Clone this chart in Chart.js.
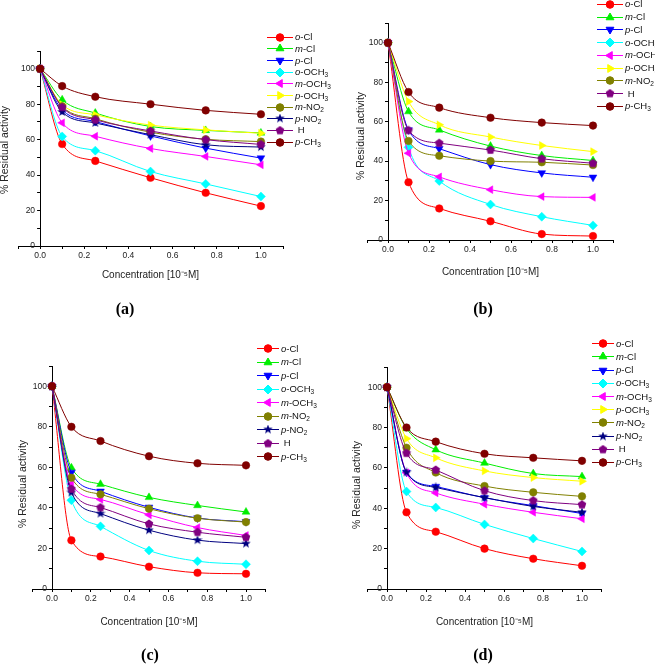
<!DOCTYPE html>
<html>
<head>
<meta charset="utf-8">
<script src="https://cdn.jsdelivr.net/npm/chart.js@4/dist/chart.umd.min.js"></script>
<style>
  body { margin: 0; background: #fff; width: 655px; height: 671px; position: relative; overflow: hidden;
         font-family: "Liberation Sans", Arial, sans-serif; }
  canvas.plot { position: absolute; }
  .legend { position: absolute; font-size: 9.5px; color: #111; }
  .legend .row { display: flex; align-items: center; white-space: nowrap; }
  .legend canvas { margin-right: 2px; }
  .legend sub { font-size: 6.5px; vertical-align: baseline; position: relative; top: 2px; }
  .tag { position: absolute; font: bold 16px "Liberation Serif", "Times New Roman", serif; transform: translate(-50%, -50%); }
</style>
</head>
<body>
<script>
// 濃度 (x軸)
const conc = [0, 0.1, 0.25, 0.5, 0.75, 1.0];

// (a)
const a_oCl   = [100, 57.5, 48.0, 38.5, 30.0, 22.5];
const a_mCl   = [100, 82.5, 75.0, 67.4, 65.2, 63.8];
const a_pCl   = [100, 76.8, 70.2, 62.1, 55.2, 49.6];
const a_oOCH3 = [100, 61.8, 53.8, 42.0, 35.0, 27.9];
const a_mOCH3 = [100, 69.5, 61.9, 55.0, 50.5, 45.8];
const a_pOCH3 = [100, 79.7, 74.0, 68.2, 65.5, 63.6];
const a_mNO2  = [100, 78.8, 71.8, 64.2, 60.2, 58.9];
const a_pNO2  = [100, 75.6, 69.4, 62.8, 57.1, 55.8];
const a_H     = [100, 78.3, 71.2, 64.9, 60.0, 57.3];
const a_pCH3  = [100, 90.2, 84.2, 80.0, 76.5, 74.3];

// (b)
const b_oCl   = [100, 29.3, 16.0, 9.5, 3.0, 2.0];
const b_mCl   = [100, 65.1, 55.8, 47.6, 42.8, 40.3];
const b_pCl   = [100, 55.8, 46.3, 38.2, 34.0, 31.8];
const b_oOCH3 = [100, 47.0, 29.9, 18.0, 11.8, 7.4];
const b_mOCH3 = [100, 44.0, 32.0, 25.5, 22.0, 21.6];
const b_pOCH3 = [100, 70.2, 58.4, 52.2, 47.9, 44.8];
const b_mNO2  = [100, 50.2, 42.7, 40.0, 39.4, 38.0];
const b_H     = [100, 55.6, 49.1, 45.6, 41.2, 38.9];
const b_pCH3  = [100, 75.0, 67.1, 62.0, 59.5, 58.0];

// (c)
const c_oCl   = [100, 24.0, 16.0, 11.0, 8.0, 7.5];
const c_mCl   = [100, 59.8, 51.7, 45.2, 41.2, 38.0];
const c_pCl   = [100, 57.5, 48.2, 40.3, 35.0, 33.2];
const c_oOCH3 = [100, 43.8, 30.9, 19.0, 13.7, 12.2];
const c_mOCH3 = [100, 51.8, 44.2, 36.6, 30.3, 26.4];
const c_mNO2  = [100, 54.9, 46.7, 39.6, 34.9, 33.0];
const c_pNO2  = [100, 47.6, 37.2, 29.0, 24.1, 22.4];
const c_H     = [100, 49.3, 40.2, 32.1, 28.0, 25.5];
const c_pCH3  = [100, 80.0, 73.0, 65.5, 62.0, 61.0];

// (d)
const d_oCl   = [100, 38.0, 28.4, 20.0, 15.0, 11.5];
const d_mCl   = [100, 79.5, 69.0, 62.4, 57.2, 55.7];
const d_pCl   = [100, 57.8, 50.8, 45.2, 41.3, 37.4];
const d_oOCH3 = [100, 48.3, 40.4, 32.0, 25.0, 18.6];
const d_mOCH3 = [100, 57.6, 47.6, 42.0, 38.0, 34.8];
const d_pOCH3 = [100, 74.5, 65.0, 58.5, 55.2, 53.4];
const d_mNO2  = [100, 70.0, 57.7, 51.0, 47.9, 45.9];
const d_pNO2  = [100, 57.8, 50.3, 45.3, 40.9, 38.0];
const d_H     = [100, 67.3, 59.0, 48.7, 43.8, 41.8];
const d_pCH3  = [100, 80.0, 73.0, 67.0, 65.0, 63.5];

const xTickStep = 0.1;
const yTickStep = 10;

// 自作マーカー (星・五角形)
function makeMarker(kind, color) {
  const c = document.createElement("canvas");
  c.width = c.height = 10;
  const g = c.getContext("2d");
  g.fillStyle = color;
  g.beginPath();
  const n = kind === "star5" ? 10 : 5;
  for (let i = 0; i < n; i++) {
    const r = kind === "star5" ? (i % 2 ? 2.1 : 5) : 4.5;
    const ang = -Math.PI / 2 + i * 2 * Math.PI / n;
    g.lineTo(5 + r * Math.cos(ang), 5 + r * Math.sin(ang));
  }
  g.closePath();
  g.fill();
  return c;
}

const styles = {
  "o-Cl":   { color: "#ff0000", shape: "circle",   rot: 0,   r: 3.8 },
  "m-Cl":   { color: "#00ee00", shape: "triangle", rot: 0,   r: 4.5 },
  "p-Cl":   { color: "#0000ff", shape: "triangle", rot: 180, r: 4.5 },
  "o-OCH3": { color: "#00ffff", shape: "rectRot",  rot: 0,   r: 4.5 },
  "m-OCH3": { color: "#ff00ff", shape: "triangle", rot: 270, r: 4.5 },
  "p-OCH3": { color: "#ffff00", shape: "triangle", rot: 90,  r: 4.5 },
  "m-NO2":  { color: "#808000", shape: "circle",   rot: 0,   r: 3.8 },
  "p-NO2":  { color: "#000080", shape: makeMarker("star5", "#000080"), rot: 0, r: 4.5 },
  "H":      { color: "#800080", shape: makeMarker("pentagon", "#800080"), rot: 0, r: 4.5 },
  "p-CH3":  { color: "#800000", shape: "circle",   rot: 0,   r: 3.8 }
};

const yTitlePlugin = {
  id: "ytitle",
  afterDraw(chart, args, o) {
    const ctx = chart.ctx;
    ctx.save();
    ctx.translate(o.x, o.y);
    ctx.rotate(-Math.PI / 2);
    ctx.font = '10.5px "Liberation Sans", Arial, sans-serif';
    ctx.fillStyle = "#222";
    ctx.textAlign = "center";
    ctx.textBaseline = "middle";
    ctx.fillText(o.text, 0, 0);
    ctx.restore();
  }
};

// y軸を x=0 の位置へ移す (x軸は -0.1 から始まるため)
// ラベルは left..right の範囲でクリップされるので幅を持たせておく
const yAxisAtZero = {
  id: "yAxisAtZero",
  afterLayout(chart) {
    const px = chart.scales.x.getPixelForValue(0);
    chart.scales.y.left = px - 40;
    chart.scales.y.right = px;
    chart.scales.y.width = 40;
  }
};

function legendHtml(name) {
  if (name === "H") return "&nbsp;H";
  let s = name.replace(/(\d)$/, "<sub>$1</sub>");
  return s.replace(/^([omp])-/, "<i>$1</i>-");
}

function makePanel(p) {
  const cv = document.createElement("canvas");
  cv.className = "plot";
  cv.width = p.w; cv.height = p.h;
  cv.style.left = p.left + "px"; cv.style.top = p.top + "px";
  document.body.appendChild(cv);

  const n = p.series.length;
  const datasets = p.series.map(([name, vals], i) => {
    const st = styles[name];
    return {
      label: name,
      data: conc.map((x, k) => ({ x: x, y: vals[k] })),
      borderColor: st.color,
      backgroundColor: st.color,
      borderWidth: 1,
      pointStyle: st.shape,
      pointRotation: st.rot,
      pointRadius: st.r,
      pointBorderWidth: 0.5,
      cubicInterpolationMode: "monotone",
      fill: false,
      order: n - i
    };
  });

  const tickFont = { size: 8.5, family: '"Liberation Sans", Arial, sans-serif' };
  new Chart(cv, {
    type: "line",
    data: { datasets },
    plugins: [yTitlePlugin, yAxisAtZero],
    options: {
      responsive: false,
      animation: false,
      layout: { padding: p.pad },
      plugins: {
        legend: { display: false },
        tooltip: { enabled: false },
        ytitle: { text: "% Residual activity", x: p.ytx, y: p.yty }
      },
      scales: {
        x: {
          type: "linear", min: -0.1, max: 1.1,
          afterFit: s => { s.height = p.xh; },
          border: { color: "#000", width: 1 },
          grid: { drawOnChartArea: false, drawTicks: true, tickLength: 3, color: "#000" },
          ticks: {
            stepSize: xTickStep, autoSkip: false, maxRotation: 0, color: "#222", font: tickFont, padding: 2,
            callback: v => {
              const k = Math.round(v * 10);
              return (k >= 0 && k <= 10 && k % 2 === 0) ? (k / 10).toFixed(1) : "";
            }
          },
          title: {
            display: true, text: "Concentration [10\u207B\u2075M]", color: "#222", padding: 0,
            font: { size: 10, family: '"Liberation Sans", Arial, sans-serif' }
          }
        },
        y: {
          type: "linear", min: 0, max: 110,
          position: "left",
          afterFit: s => { s.width = 0; },
          border: { color: "#000", width: 1 },
          grid: { drawOnChartArea: false, drawTicks: true, tickLength: 3, color: "#000" },
          ticks: {
            stepSize: yTickStep, color: "#222", font: tickFont, padding: 2,
            callback: v => (v % 20 === 0 && v <= 100) ? v : ""
          }
        }
      }
    }
  });

  // 凡例 (HTML)
  const lg = document.createElement("div");
  lg.className = "legend";
  lg.style.left = p.lg.x + "px";
  lg.style.top = p.lg.y + "px";
  p.series.forEach(([name]) => {
    const st = styles[name];
    const row = document.createElement("div");
    row.className = "row";
    row.style.height = p.lg.step + "px";
    const sc = document.createElement("canvas");
    sc.width = p.lg.w; sc.height = 10;
    const g = sc.getContext("2d");
    g.strokeStyle = st.color; g.fillStyle = st.color; g.lineWidth = 1;
    g.beginPath(); g.moveTo(0, 5.5); g.lineTo(p.lg.w, 5.5); g.stroke();
    Chart.helpers.drawPoint(g, { pointStyle: st.shape, radius: st.r, rotation: st.rot, borderWidth: 0.5 }, p.lg.w / 2, 5.5);
    row.appendChild(sc);
    const t = document.createElement("span");
    t.innerHTML = legendHtml(name);
    row.appendChild(t);
    lg.appendChild(row);
  });
  document.body.appendChild(lg);

  const tag = document.createElement("div");
  tag.className = "tag";
  tag.textContent = p.tag;
  tag.style.left = p.tagX + "px";
  tag.style.top = p.tagY + "px";
  document.body.appendChild(tag);
}

makePanel({
  left: 0, top: 0, w: 330, h: 320,
  pad: { left: 18, right: 47, top: 51, bottom: 39 }, xh: 35,
  ytx: 5, yty: 150,
  lg: { x: 267, y: 30.9, step: 11.67, w: 26 },
  tag: "(a)", tagX: 125, tagY: 309,
  series: [["o-Cl", a_oCl], ["m-Cl", a_mCl], ["p-Cl", a_pCl], ["o-OCH3", a_oOCH3], ["m-OCH3", a_mOCH3],
           ["p-OCH3", a_pOCH3], ["m-NO2", a_mNO2], ["p-NO2", a_pNO2], ["H", a_H], ["p-CH3", a_pCH3]]
});

makePanel({
  left: 330, top: 0, w: 325, h: 320,
  pad: { left: 37.5, right: 41.5, top: 23, bottom: 42 }, xh: 38,
  ytx: 31, yty: 136,
  lg: { x: 597, y: -2.4, step: 12.75, w: 26 },
  tag: "(b)", tagX: 483, tagY: 309,
  series: [["o-Cl", b_oCl], ["m-Cl", b_mCl], ["p-Cl", b_pCl], ["o-OCH3", b_oOCH3], ["m-OCH3", b_mOCH3],
           ["p-OCH3", b_pOCH3], ["m-NO2", b_mNO2], ["H", b_H], ["p-CH3", b_pCH3]]
});

makePanel({
  left: 0, top: 320, w: 330, h: 351,
  pad: { left: 32.6, right: 64.6, top: 46, bottom: 43 }, xh: 39,
  ytx: 23, yty: 164,
  lg: { x: 257, y: 341.5, step: 13.5, w: 22 },
  tag: "(c)", tagX: 150, tagY: 655,
  series: [["o-Cl", c_oCl], ["m-Cl", c_mCl], ["p-Cl", c_pCl], ["o-OCH3", c_oOCH3], ["m-OCH3", c_mOCH3],
           ["m-NO2", c_mNO2], ["p-NO2", c_pNO2], ["H", c_H], ["p-CH3", c_pCH3]]
});

makePanel({
  left: 330, top: 320, w: 325, h: 351,
  pad: { left: 37.5, right: 53.5, top: 47, bottom: 43 }, xh: 39,
  ytx: 27, yty: 165,
  lg: { x: 592, y: 336.7, step: 13.2, w: 22 },
  tag: "(d)", tagX: 483, tagY: 655,
  series: [["o-Cl", d_oCl], ["m-Cl", d_mCl], ["p-Cl", d_pCl], ["o-OCH3", d_oOCH3], ["m-OCH3", d_mOCH3],
           ["p-OCH3", d_pOCH3], ["m-NO2", d_mNO2], ["p-NO2", d_pNO2], ["H", d_H], ["p-CH3", d_pCH3]]
});
</script>
</body>
</html>
